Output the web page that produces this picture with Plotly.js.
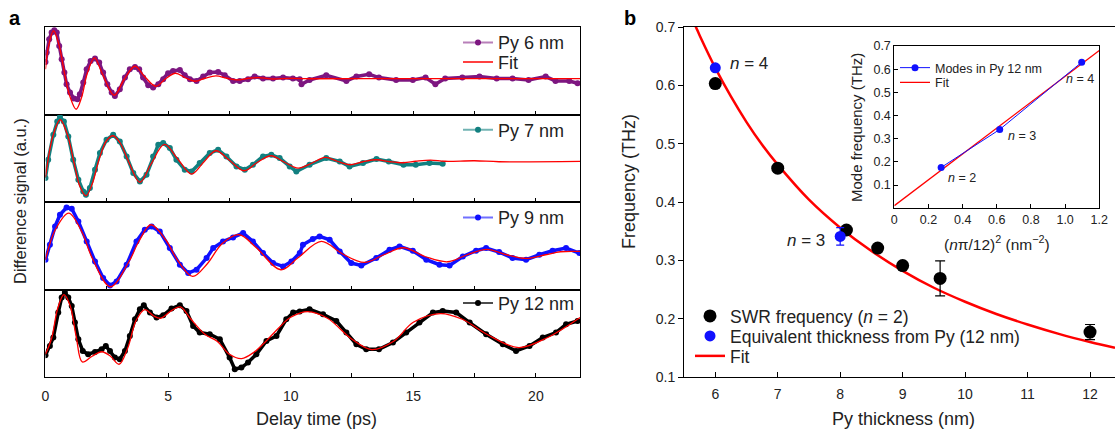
<!DOCTYPE html>
<html>
<head>
<meta charset="utf-8">
<script src="https://cdn.plot.ly/plotly-3.0.1.min.js"></script>
<style>html,body{margin:0;padding:0;background:#fff;}#chart{width:1115px;height:431px;}</style>
</head>
<body>
<div id="chart"></div>
<script>
// ---------- Panel a: Py 6 nm ----------
const t6 = [0,0.05,0.15,0.25,0.36,0.46,0.56,0.66,0.77,0.86,1.0,1.16,1.3,1.4,1.54,1.68,1.84,2.02,2.19,2.35,2.52,2.7,2.83,3.03,3.24,3.44,3.65,3.82,3.98,4.19,4.39,4.6,4.8,5.0,5.2,5.48,5.68,5.89,6.16,6.43,6.7,7.04,7.31,7.65,7.92,8.26,8.53,8.87,9.28,9.69,10.09,10.37,10.44,10.77,11.45,12.27,12.68,13.2,13.6,14.3,14.98,15.5,15.9,16.3,17.0,17.7,18.4,19.05,19.7,20.4,20.8,21.36,21.7];
const s6 = [0.88,1.82,3.15,3.82,4.05,3.82,2.48,1.15,-0.18,-1.35,-2.18,-2.78,-2.85,-2.35,-1.18,0.15,0.98,1.22,0.82,-0.18,-1.35,-2.18,-2.52,-1.85,-0.68,0.15,0.38,0.15,-0.68,-1.45,-1.68,-1.35,-0.85,-0.25,-0.02,0.08,-0.45,-0.85,-1.02,-0.58,-0.18,-0.12,-0.45,-1.02,-1.02,-0.85,-0.58,-0.78,-0.78,-0.68,-0.78,-0.85,-1.35,-0.92,-0.45,-1.02,-0.58,-0.35,-0.68,-0.92,-0.92,-0.68,-1.35,-0.78,-0.68,-0.58,-0.78,-0.78,-0.92,-0.58,-1.02,-1.02,-1.25];
const fitT6 = [0,0.12,0.33,0.55,0.78,1.0,1.25,1.48,1.7,2.0,2.3,2.8,3.2,3.65,4.05,4.5,4.9,5.3,5.7,6.1,6.5,6.95,7.4,7.8,8.3,8.7,9.2,10,11,13,16,21.8];
const fit6 = [0.15,2.4,4.0,2.6,-0.3,-2.6,-3.85,-2.6,-0.3,1.28,-0.2,-2.45,-0.9,0.45,-0.6,-1.55,-0.8,-0.25,-0.7,-1.05,-0.75,-0.52,-0.75,-0.92,-0.75,-0.68,-0.82,-0.76,-0.8,-0.78,-0.78,-0.78];

// ---------- Panel a: Py 7 nm ----------
const t7 = [0,0.11,0.32,0.48,0.59,0.75,0.93,1.13,1.34,1.54,1.65,1.81,2.02,2.22,2.49,2.76,3.03,3.31,3.58,3.85,4.12,4.39,4.6,4.8,5.07,5.34,5.68,5.96,6.29,6.7,7.04,7.38,7.79,8.13,8.46,8.87,9.21,9.55,9.96,10.23,10.77,11.45,12.0,12.4,12.95,13.5,14.0,14.6,15.1,15.66,16.2];
const s7 = [-1.98,-0.15,2.35,3.68,4.12,3.68,2.18,-0.15,-2.15,-3.32,-3.65,-2.98,-1.15,0.52,1.85,2.35,1.68,0.18,-1.48,-2.32,-1.65,0.18,1.35,1.52,1.02,-0.15,-1.15,-1.32,-0.48,0.52,0.85,0.18,-0.82,-1.15,-0.65,0.18,0.35,0.02,-0.82,-1.32,-0.65,0.02,-0.32,-0.82,-0.48,-0.08,-0.32,-0.65,-0.65,-0.48,-0.55];
const fitT7 = [0,0.3,0.6,0.9,1.15,1.4,1.65,1.9,2.2,2.5,2.76,3.05,3.4,3.85,4.3,4.85,5.4,5.95,6.45,6.95,7.5,8.1,8.65,9.2,9.75,10.3,10.85,11.4,11.9,12.4,12.95,13.5,14.05,14.6,15.1,15.7,16.3,17.5,18.5,21.8];
const fit7 = [-1.9,2.2,3.85,2.3,-0.3,-2.8,-3.75,-2.6,0.0,1.8,2.25,1.5,-0.4,-2.4,-0.6,1.38,-0.1,-1.58,-0.4,0.75,-0.2,-1.25,-0.4,0.25,-0.4,-0.98,-0.5,0.08,-0.3,-0.65,-0.35,-0.15,-0.35,-0.45,-0.3,-0.18,-0.3,-0.25,-0.35,-0.32];

// ---------- Panel a: Py 9 nm ----------
const t9 = [0,0.18,0.39,0.59,0.86,1.07,1.34,1.68,2.02,2.35,2.63,2.9,3.31,3.71,4.05,4.33,4.66,5.07,5.48,5.82,6.16,6.57,6.84,7.24,7.65,8.06,8.46,8.87,9.28,9.69,10.03,10.37,10.5,10.9,11.18,11.59,12.0,12.47,12.88,13.49,14.03,14.44,14.98,15.53,16.07,16.48,17.02,17.56,17.97,18.5,19.05,19.6,20.14,20.68,21.23,21.77];
const s9 = [-1.4,0.1,1.93,3.1,3.83,3.7,2.43,0.43,-1.57,-3.23,-3.97,-3.57,-1.9,0.43,1.6,1.93,1.43,-0.23,-1.9,-2.73,-2.4,-1.23,-0.23,0.43,0.83,1.27,0.43,-0.73,-1.73,-2.07,-1.57,-0.73,0.1,0.67,0.93,0.6,-0.57,-1.73,-1.97,-1.23,-0.4,-0.07,-0.5,-1.4,-1.9,-1.97,-1.07,-0.5,-0.23,-0.63,-1.23,-1.4,-0.9,-0.5,-0.23,-0.73];
const fitT9 = [0,0.4,0.95,1.5,1.9,2.65,3.4,3.8,4.3,4.9,5.4,6.0,6.6,7.2,7.9,8.6,9.6,10.3,11.25,12.1,13.0,13.8,14.6,15.5,16.4,17.2,18.0,18.8,19.6,20.4,21.0,21.8];
const fit9 = [-1.4,1.6,3.27,1.3,-1.2,-4.1,-1.6,0.4,2.1,0.6,-1.5,-3.07,-1.8,0.2,1.1,-0.2,-2.4,-1.2,0.43,-0.8,-1.67,-0.9,-0.2,-1.1,-1.6,-0.9,-0.37,-0.9,-1.27,-0.9,-0.6,-0.57];

// ---------- Panel a: Py 12 nm ----------
const t12 = [0,0.18,0.32,0.52,0.66,0.79,0.93,1.07,1.2,1.34,1.52,1.74,2.02,2.29,2.46,2.63,2.83,3.03,3.24,3.44,3.65,3.85,4.01,4.26,4.53,4.8,5.14,5.48,5.75,6.02,6.29,6.7,7.11,7.51,7.72,7.99,8.26,8.6,9.01,9.42,9.82,10.1,10.37,10.77,11.32,11.86,12.27,12.68,13.08,13.6,14.17,14.71,15.25,15.8,16.2,16.75,17.3,17.97,18.65,19.19,19.74,20.28,20.82,21.23,21.7];
const s12 = [-2.2,-1.27,-0.43,2.07,3.57,4.13,3.57,2.73,1.07,-0.6,-1.77,-2.1,-1.87,-1.6,-1.27,-1.77,-2.43,-2.6,-1.77,-0.27,1.4,2.4,2.8,2.07,1.57,1.8,2.47,2.8,2.23,0.73,0.07,-0.1,-0.6,-2.43,-3.6,-3.43,-2.93,-2.1,-0.77,-0.27,1.4,2.07,2.17,2.4,1.9,1.23,0.07,-1.1,-1.6,-1.6,-0.93,0.07,1.07,2.07,2.23,2.07,1.07,-0.1,-1.1,-1.77,-1.27,-0.43,0.07,0.9,1.23];
const fitT12 = [0,0.25,0.5,0.75,1.0,1.25,1.5,1.9,2.3,2.65,3.0,3.35,3.7,4.05,4.4,4.7,5.1,5.5,5.9,6.5,7.0,7.5,8.0,8.5,9.0,9.5,10.0,10.7,11.5,12.5,13.3,14.2,15.0,16.1,17.0,18.0,19.3,20.5,21.8];
const fit12 = [-2.1,-0.5,2.5,3.87,2.8,-0.3,-2.87,-2.3,-1.85,-2.3,-3.1,-1.5,1.3,2.37,1.75,1.5,2.2,2.63,1.5,-0.1,-0.8,-2.1,-2.53,-1.9,-0.77,0.5,1.6,2.17,1.5,-0.6,-1.63,-0.8,1.1,1.97,1.4,-0.1,-1.43,-0.4,1.57];

// ---------- Panel b ----------
const thickSWR = [6,7,8.1,8.6,9,9.6,12];
const freqSWR = [0.603,0.458,0.352,0.321,0.291,0.269,0.177];
const errSWR = [null,null,null,null,null,0.03,0.013];
const thickEq = [6,8];
const freqEq = [0.630,0.341];
const errEq = [null,0.015];
const fitThick = [5.65,5.7,5.75,6.0,6.25,6.5,6.75,7.0,7.5,8.0,8.5,9.0,9.5,10.0,10.5,11.0,11.5,12.0,12.4];
const fitFreq = [0.710,0.6975,0.6855,0.630,0.581,0.537,0.498,0.464,0.404,0.356,0.316,0.282,0.253,0.229,0.208,0.190,0.174,0.160,0.150];

// ---------- Inset ----------
const modeX = [0.274,0.617,1.097];
const modeF = [0.176,0.340,0.630];
const insetFitX = [0,1.2];
const insetFitF = [0.0115,0.681];
const insetXTicks = [0,0.2,0.4,0.6,0.8,1.0,1.2];
const insetXTickText = ['0','0.2','0.4','0.6','0.8','1.0','1.2'];
const insetYTicks = [0.1,0.2,0.3,0.4,0.5,0.6,0.7];
const bXTicks = [6,7,8,9,10,11,12];
const bYTicks = [0.1,0.2,0.3,0.4,0.5,0.6,0.7];
const aXTicks = [0,5,10,15,20];

const FONT = 'Liberation Sans, Arial, sans-serif';
const PURPLE = '#7d1680', TEAL = '#128080', BLUE = '#1010ff', RED = '#ff0000';

function dataTrace(t, s, color, xa, ya) {
  return {x: t, y: s, xaxis: xa, yaxis: ya, type: 'scatter', mode: 'lines+markers',
    line: {color: color, width: 3.5}, marker: {color: color, size: 6}, showlegend: false, hoverinfo: 'skip'};
}
function fitTrace(t, s, xa, ya) {
  return {x: t, y: s, xaxis: xa, yaxis: ya, type: 'scatter', mode: 'lines',
    line: {color: RED, width: 1.3, shape: 'spline', smoothing: 1}, showlegend: false, hoverinfo: 'skip'};
}
function legendTrace(name, color, lineColor, xa, ya, leg) {
  return {x: [null], y: [null], xaxis: xa, yaxis: ya, type: 'scatter', mode: 'lines+markers', name: name,
    line: {color: lineColor, width: 2}, marker: {color: color, size: 6}, legend: leg, showlegend: true};
}

const traces = [
  dataTrace(t6, s6, PURPLE, 'x', 'y'),
  fitTrace(fitT6, fit6, 'x', 'y'),
  dataTrace(t7, s7, TEAL, 'x2', 'y2'),
  fitTrace(fitT7, fit7, 'x2', 'y2'),
  dataTrace(t9, s9, BLUE, 'x3', 'y3'),
  fitTrace(fitT9, fit9, 'x3', 'y3'),
  dataTrace(t12, s12, '#000', 'x4', 'y4'),
  fitTrace(fitT12, fit12, 'x4', 'y4'),
  legendTrace('Py 6 nm', PURPLE, 'rgba(125,22,128,0.55)', 'x', 'y', 'legend'),
  {x: [null], y: [null], xaxis: 'x', yaxis: 'y', type: 'scatter', mode: 'lines', name: 'Fit',
    line: {color: RED, width: 1.3}, legend: 'legend2'},
  legendTrace('Py 7 nm', TEAL, 'rgba(18,128,128,0.6)', 'x2', 'y2', 'legend3'),
  legendTrace('Py 9 nm', BLUE, 'rgba(16,16,255,0.6)', 'x3', 'y3', 'legend4'),
  legendTrace('Py 12 nm', '#000', 'rgba(0,0,0,0.7)', 'x4', 'y4', 'legend5'),
  // panel b
  {x: fitThick, y: fitFreq, xaxis: 'x5', yaxis: 'y5', type: 'scatter', mode: 'lines', name: 'Fit',
    line: {color: RED, width: 2.5, shape: 'spline'}, legend: 'legend8'},
  {x: thickSWR, y: freqSWR, xaxis: 'x5', yaxis: 'y5', type: 'scatter', mode: 'markers', name: 'SWR frequency (<i>n</i> = 2)',
    marker: {color: '#000', size: 13}, error_y: {type: 'data', array: errSWR, visible: true, color: '#000', thickness: 1.2, width: 5}, legend: 'legend6'},
  {x: thickEq, y: freqEq, xaxis: 'x5', yaxis: 'y5', type: 'scatter', mode: 'markers', name: 'Equivalent thickness from Py (12 nm)',
    marker: {color: BLUE, size: 11}, error_y: {type: 'data', array: errEq, visible: true, color: BLUE, thickness: 1.2, width: 4}, legend: 'legend7'},
  // inset
  {x: insetFitX, y: insetFitF, xaxis: 'x6', yaxis: 'y6', type: 'scatter', mode: 'lines', name: 'Fit',
    line: {color: RED, width: 1.3}, legend: 'legend10'},
  {x: modeX, y: modeF, xaxis: 'x6', yaxis: 'y6', type: 'scatter', mode: 'lines+markers', name: 'Modes in Py 12 nm',
    line: {color: BLUE, width: 1}, marker: {color: BLUE, size: 7}, legend: 'legend9'}
];

const XD = [0.0408, 0.5202];
function aX(showLabels, anchor) {
  return {domain: XD, range: [0, 21.8], anchor: anchor, showline: true, linecolor: '#000', linewidth: 1, mirror: true,
    ticks: 'inside', ticklen: 4, tickcolor: '#000', tickmode: 'array', tickvals: aXTicks,
    minor: {tickmode: 'linear', tick0: 0, dtick: 2.5, ticks: 'inside', ticklen: 4, tickcolor: '#000'},
    showgrid: false, zeroline: false, showticklabels: showLabels, tickfont: {size: 14, color: '#222'}, ticklabelstandoff: 6};
}
function aY(dom, anchor) {
  return {domain: dom, range: [-4.375, 4.375], anchor: anchor, showline: true, linecolor: '#000', linewidth: 1, mirror: true,
    ticks: '', showticklabels: false, showgrid: false, zeroline: false};
}
function py(p) { return 1 - (p - 27) / 350; }
function px(p) { return p / 1115; }
function leg(x, y, size) {
  return {x: px(x), y: py(y), xanchor: 'left', yanchor: 'middle', bgcolor: 'rgba(0,0,0,0)', borderwidth: 0,
    font: {size: size, family: FONT, color: '#222'}, itemclick: false, itemdoubleclick: false};
}
function note(text, x, y, size, extra) {
  return Object.assign({text: text, xref: 'paper', yref: 'paper', x: px(x), y: py(y), xanchor: 'center', yanchor: 'middle',
    showarrow: false, font: {size: size, color: '#222'}}, extra || {});
}
function dnote(text, xr, yr, x, y, size) {
  return {text: text, xref: xr, yref: yr, x: x, y: y, xanchor: 'center', yanchor: 'middle', showarrow: false, font: {size: size, color: '#222'}};
}

const layout = {
  width: 1115, height: 431, margin: {l: 0, r: 0, t: 27, b: 54}, paper_bgcolor: '#fff', plot_bgcolor: 'rgba(0,0,0,0)',
  font: {family: FONT, color: '#222'},
  showlegend: true,
  xaxis: aX(false, 'y'), yaxis: aY([0.75, 1], 'x'),
  xaxis2: aX(false, 'y2'), yaxis2: aY([0.5, 0.75], 'x2'),
  xaxis3: aX(false, 'y3'), yaxis3: aY([0.25, 0.5], 'x3'),
  xaxis4: aX(true, 'y4'), yaxis4: aY([0, 0.25], 'x4'),
  xaxis5: {domain: [0.6135, 1], range: [5.5, 12.4], anchor: 'y5', showline: true, linecolor: '#000', linewidth: 1, mirror: true,
    ticks: 'inside', ticklen: 5, tickcolor: '#000', tickmode: 'array', tickvals: bXTicks, showgrid: false, zeroline: false,
    tickfont: {size: 14, color: '#222'}, ticklabelstandoff: 4},
  yaxis5: {domain: [0, 1], range: [0.1, 0.7], anchor: 'x5', showline: true, linecolor: '#000', linewidth: 1,
    ticks: 'outside', ticklen: 5, tickcolor: '#000', tickmode: 'array', tickvals: bYTicks, showgrid: false, zeroline: false,
    tickfont: {size: 14, color: '#222'}},
  xaxis6: {domain: [0.8021, 0.9859], range: [0, 1.2], anchor: 'y6', showline: true, linecolor: '#000', linewidth: 1, mirror: true,
    ticks: 'inside', ticklen: 4, tickcolor: '#000', tickmode: 'array', tickvals: insetXTicks, ticktext: insetXTickText,
    showgrid: false, zeroline: false, tickfont: {size: 12.5, color: '#222'}},
  yaxis6: {domain: [0.482, 0.9457], range: [0, 0.7], anchor: 'x6', showline: true, linecolor: '#000', linewidth: 1, mirror: true,
    ticks: 'inside', ticklen: 4, tickcolor: '#000', tickmode: 'array', tickvals: insetYTicks,
    showgrid: false, zeroline: false, tickfont: {size: 12.5, color: '#222'}},
  legend: leg(458, 42.7, 18),
  legend2: leg(458, 62.3, 18),
  legend3: leg(458, 130, 18),
  legend4: leg(458, 217.7, 18),
  legend5: leg(458, 303.3, 18),
  legend6: leg(690, 316, 17.5),
  legend7: leg(690, 336, 17.5),
  legend8: leg(690, 356, 17.5),
  legend9: leg(895, 68, 12.5),
  legend10: leg(895, 82.7, 12.5),
  annotations: [
    note('<b>a</b>', 15, 18, 20, {font: {size: 20, color: '#000'}}),
    note('<b>b</b>', 630, 18, 20, {font: {size: 20, color: '#000'}}),
    note('Difference signal (a.u.)', 20, 201, 16.5, {textangle: -90}),
    note('Delay time (ps)', 316, 419, 18),
    note('Py thickness (nm)', 903, 419, 18),
    note('Frequency (THz)', 629, 182, 18, {textangle: -90}),
    note('Mode frequency (THz)', 856, 128, 15, {textangle: -90}),
    note('(<i>n</i>π/12)<sup>2</sup> (nm<sup>−2</sup>)', 997, 243, 15.5),
    dnote('<i>n</i> = 4', 'x5', 'y5', 6.54, 0.637, 17),
    dnote('<i>n</i> = 3', 'x5', 'y5', 7.45, 0.334, 17),
    dnote('<i>n</i> = 2', 'x6', 'y6', 0.394, 0.129, 12.5),
    dnote('<i>n</i> = 3', 'x6', 'y6', 0.747, 0.313, 12.5),
    dnote('<i>n</i> = 4', 'x6', 'y6', 1.09, 0.556, 12.5)
  ]
};

Plotly.newPlot('chart', traces, layout, {staticPlot: true, displayModeBar: false});
</script>
</body>
</html>
